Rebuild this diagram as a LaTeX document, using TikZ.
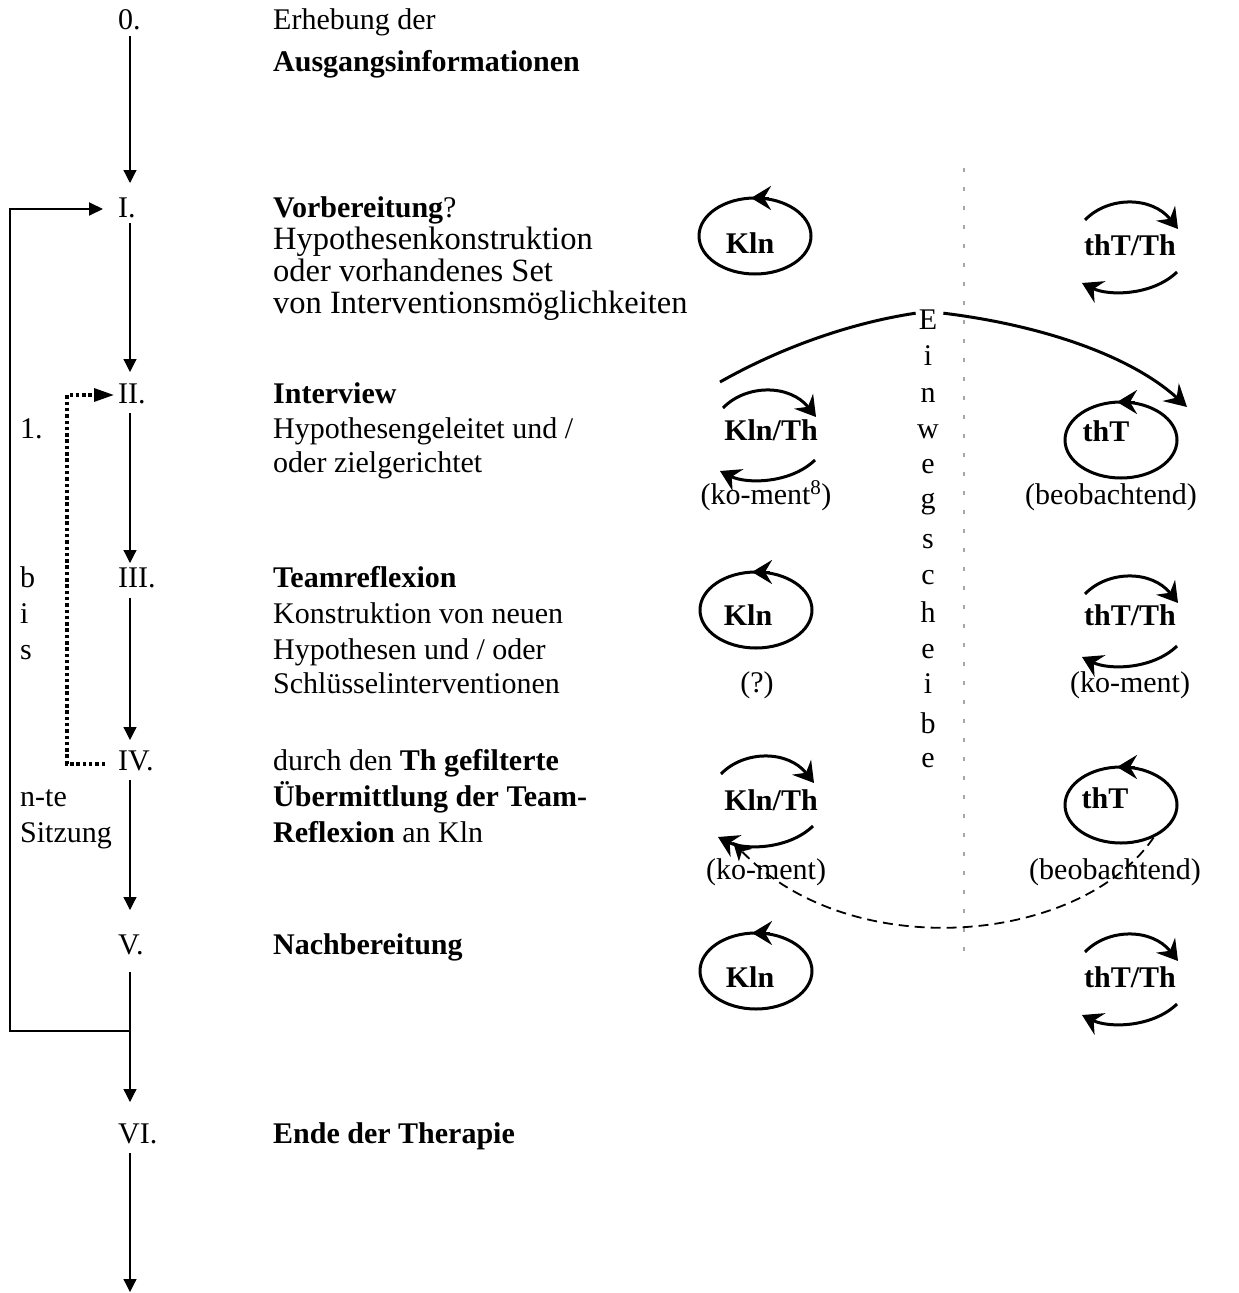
\documentclass[tikz,border=0pt]{standalone}
\usepackage{fontspec}
\setmainfont{Liberation Serif}
\usetikzlibrary{arrows.meta,calc,shapes.geometric}
\newcommand\myfs{\fontsize{30}{32}\selectfont}
\newcommand\myfsl{\fontsize{32.5}{34}\selectfont}
\begin{document}
\begin{tikzpicture}[x=1pt,y=-1pt,
 every node/.style={inner sep=0pt},
 lbl/.style={anchor=base west,font=\myfs},
 lbll/.style={anchor=base west,font=\myfsl},
 clbl/.style={anchor=base,font=\myfs},
 sym/.style={anchor=center,font=\myfs\bfseries},
 flow/.style={line width=1.2pt,-{Triangle[width=13pt,length=13pt]}},
 back/.style={line width=2pt,line join=miter,-{Triangle[width=13pt,length=14pt]}},
 dotback/.style={line width=3.2pt,line join=miter,dash pattern=on 3.5pt off 2.8pt,-{Triangle[width=13pt,length=20pt]}},
 loopell/.style={ellipse,draw,line width=3pt,minimum width=112pt,minimum height=76pt},
 curl/.style={line width=3pt,-{Stealth[length=20pt,width=24pt,inset=7pt]}},
 bigcurl/.style={line width=3pt,-{Stealth[length=22pt,width=24pt,inset=8pt]}},
 dashcurl/.style={line width=1.8pt,dash pattern=on 10pt off 6pt,-{Stealth[length=18pt,width=18pt,inset=5pt]}},
 sepline/.style={line width=2pt,gray!70,dash pattern=on 4pt off 15pt},
 twoarcs/.pic={
   \draw[curl] (-45,-26) .. controls (-22,-50) and (22,-50) .. (48,-17);
   \draw[curl] (47,26) .. controls (22,50) and (-22,50) .. (-48,37);
 }
]
\useasboundingbox (0,0) rectangle (1239,1293);

% ---------- left column texts ----------
\node[lbl] (n0) at (118,29) {0.};
\node[lbl] (t0a) at (273,29) {Erhebung der};
\node[lbl] (t0b) at (273,71) {\bfseries Ausgangsinformationen};

\node[lbl] (n1) at (118,217) {I.};
\node[lbl] (t1a) at (273,217) {\textbf{Vorbereitung}?};
\node[lbll] (t1b) at (273,249) {Hypothesenkonstruktion};
\node[lbll] (t1c) at (273,281) {oder vorhandenes Set};
\node[lbll] (t1d) at (273,313) {von Interventionsmöglichkeiten};

\node[lbl] (n2) at (118,403) {II.};
\node[lbl] (t2a) at (273,403) {\bfseries Interview};
\node[lbl] (t2b) at (273,438) {Hypothesengeleitet und /};
\node[lbl] (t2c) at (273,472) {oder zielgerichtet};

\node[lbl] (n3) at (118,587) {III.};
\node[lbl] (t3a) at (273,587) {\bfseries Teamreflexion};
\node[lbl] (t3b) at (273,623) {Konstruktion von neuen};
\node[lbl] (t3c) at (273,659) {Hypothesen und / oder};
\node[lbl] (t3d) at (273,693) {Schlüsselinterventionen};

\node[lbl] (n4) at (118,770) {IV.};
\node[lbl] (t4a) at (273,770) {durch den \textbf{Th gefilterte}};
\node[lbl] (t4b) at (273,806) {\bfseries Übermittlung der Team-};
\node[lbl] (t4c) at (273,842) {\textbf{Reflexion} an Kln};

\node[lbl] (n5) at (118,954) {V.};
\node[lbl] (t5a) at (273,954) {\bfseries Nachbereitung};

\node[lbl] (n6) at (118,1143) {VI.};
\node[lbl] (t6a) at (273,1143) {\bfseries Ende der Therapie};

% left margin labels
\node[lbl] (m1) at (20,438) {1.};
\node[lbl] (m2) at (20,587) {b};
\node[lbl] (m3) at (20,623) {i};
\node[lbl] (m4) at (20,659) {s};
\node[lbl] (m5) at (20,806) {n-te};
\node[lbl] (m6) at (20,842) {Sitzung};

% ---------- main flow ----------
\coordinate (a0s) at (130,36);   \coordinate (a0e) at (130,183);
\coordinate (a1s) at (130,223);  \coordinate (a1e) at (130,372);
\coordinate (a2s) at (130,413);  \coordinate (a2e) at (130,563);
\coordinate (a3s) at (130,598);  \coordinate (a3e) at (130,740);
\coordinate (a4s) at (130,780);  \coordinate (a4e) at (130,910);
\coordinate (a5s) at (130,972);  \coordinate (a5e) at (130,1102);
\coordinate (a6s) at (130,1153); \coordinate (a6e) at (130,1292);
\draw[flow] (a0s) -- (a0e);
\draw[flow] (a1s) -- (a1e);
\draw[flow] (a2s) -- (a2e);
\draw[flow] (a3s) -- (a3e);
\draw[flow] (a4s) -- (a4e);
\draw[flow] (a5s) -- (a5e);
\draw[flow] (a6s) -- (a6e);

% feedback loop V -> I
\coordinate (lpS) at (130,1031);
\coordinate (lpA) at (10,1031);
\coordinate (lpB) at (10,209);
\coordinate (lpE) at (103,209);
\draw[back] (lpS) -- (lpA) -- (lpB) -- (lpE);

% dotted loop IV -> II
\coordinate (dlS) at (105,764);
\coordinate (dlA) at (67,764);
\coordinate (dlB) at (67,395);
\coordinate (dlE) at (114,395);
\draw[dotback] (dlS) -- (dlA) -- (dlB) -- (dlE);

% ---------- separator and Einwegscheibe ----------
\coordinate (sepT) at (964,168);
\coordinate (sepB) at (964,965);
\draw[sepline] (sepT) -- (sepB);

\node[clbl] (w1) at (928,329) {E};
\node[clbl] (w2) at (928,365) {i};
\node[clbl] (w3) at (928,402) {n};
\node[clbl] (w4) at (928,438) {w};
\node[clbl] (w5) at (928,473) {e};
\node[clbl] (w6) at (928,508) {g};
\node[clbl] (w7) at (928,548) {s};
\node[clbl] (w8) at (928,584) {c};
\node[clbl] (w9) at (928,622) {h};
\node[clbl] (w10) at (928,658) {e};
\node[clbl] (w11) at (928,693) {i};
\node[clbl] (w12) at (928,733) {b};
\node[clbl] (w13) at (928,767) {e};

% ---------- symbols ----------
% row I
\node[loopell] (e1) at (755,236) {};
\node[sym] (s1) at (750,243) {Kln};
\draw[curl] ($(e1.north)+(14,1.5)$) -- ($(e1.north)+(-4,1.5)$);
\pic at (1130,246) {twoarcs};
\node[sym] (s2) at (1130,245) {thT/Th};

% row II
\pic at (768,434) {twoarcs};
\node[sym] (s3) at (771,430) {Kln/Th};
\node[clbl] (c3) at (766,504) {(ko-ment\textsuperscript{8})};
\node[loopell] (e4) at (1121,440) {};
\node[sym] (s4) at (1106,431) {thT};
\draw[curl] ($(e4.north)+(14,1.5)$) -- ($(e4.north)+(-4,1.5)$);
\node[clbl] (c4) at (1111,504) {(beobachtend)};

% row III
\node[loopell] (e5) at (756,610) {};
\node[sym] (s5) at (748,615) {Kln};
\draw[curl] ($(e5.north)+(14,1.5)$) -- ($(e5.north)+(-4,1.5)$);
\node[clbl] (c5) at (757,692) {(?)};
\pic at (1130,620) {twoarcs};
\node[sym] (s6) at (1130,615) {thT/Th};
\node[clbl] (c6) at (1130,692) {(ko-ment)};

% row IV
\pic at (766,800) {twoarcs};
\node[sym] (s7) at (771,800) {Kln/Th};
\node[clbl] (c7) at (766,879) {(ko-ment)};
\node[loopell] (e8) at (1121,805) {};
\node[sym] (s8) at (1105,798) {thT};
\draw[curl] ($(e8.north)+(14,1.5)$) -- ($(e8.north)+(-4,1.5)$);
\node[clbl] (c8) at (1115,879) {(beobachtend)};

% row V
\node[loopell] (e9) at (756,971) {};
\node[sym] (s9) at (750,977) {Kln};
\draw[curl] ($(e9.north)+(14,1.5)$) -- ($(e9.north)+(-4,1.5)$);
\pic at (1130,978) {twoarcs};
\node[sym] (s10) at (1130,977) {thT/Th};

% ---------- big arc over the one-way mirror ----------
\coordinate (arcL) at (720,382);
\coordinate (arcR) at (1187,407);
\draw[line width=3pt] (arcL) .. controls (780,348) and (850,323) .. ($(w1.west)+(-3,-6)$);
\draw[bigcurl] ($(w1.east)+(6,-6)$) .. controls (1040,325) and (1130,355) .. (arcR);

% ---------- dashed feedback from thT to Kln/Th ----------
\coordinate (dashE) at (733,842);
\draw[dashcurl] (e8.-45) .. controls (1080,945) and (850,965) .. (dashE);
\end{tikzpicture}
\end{document}
